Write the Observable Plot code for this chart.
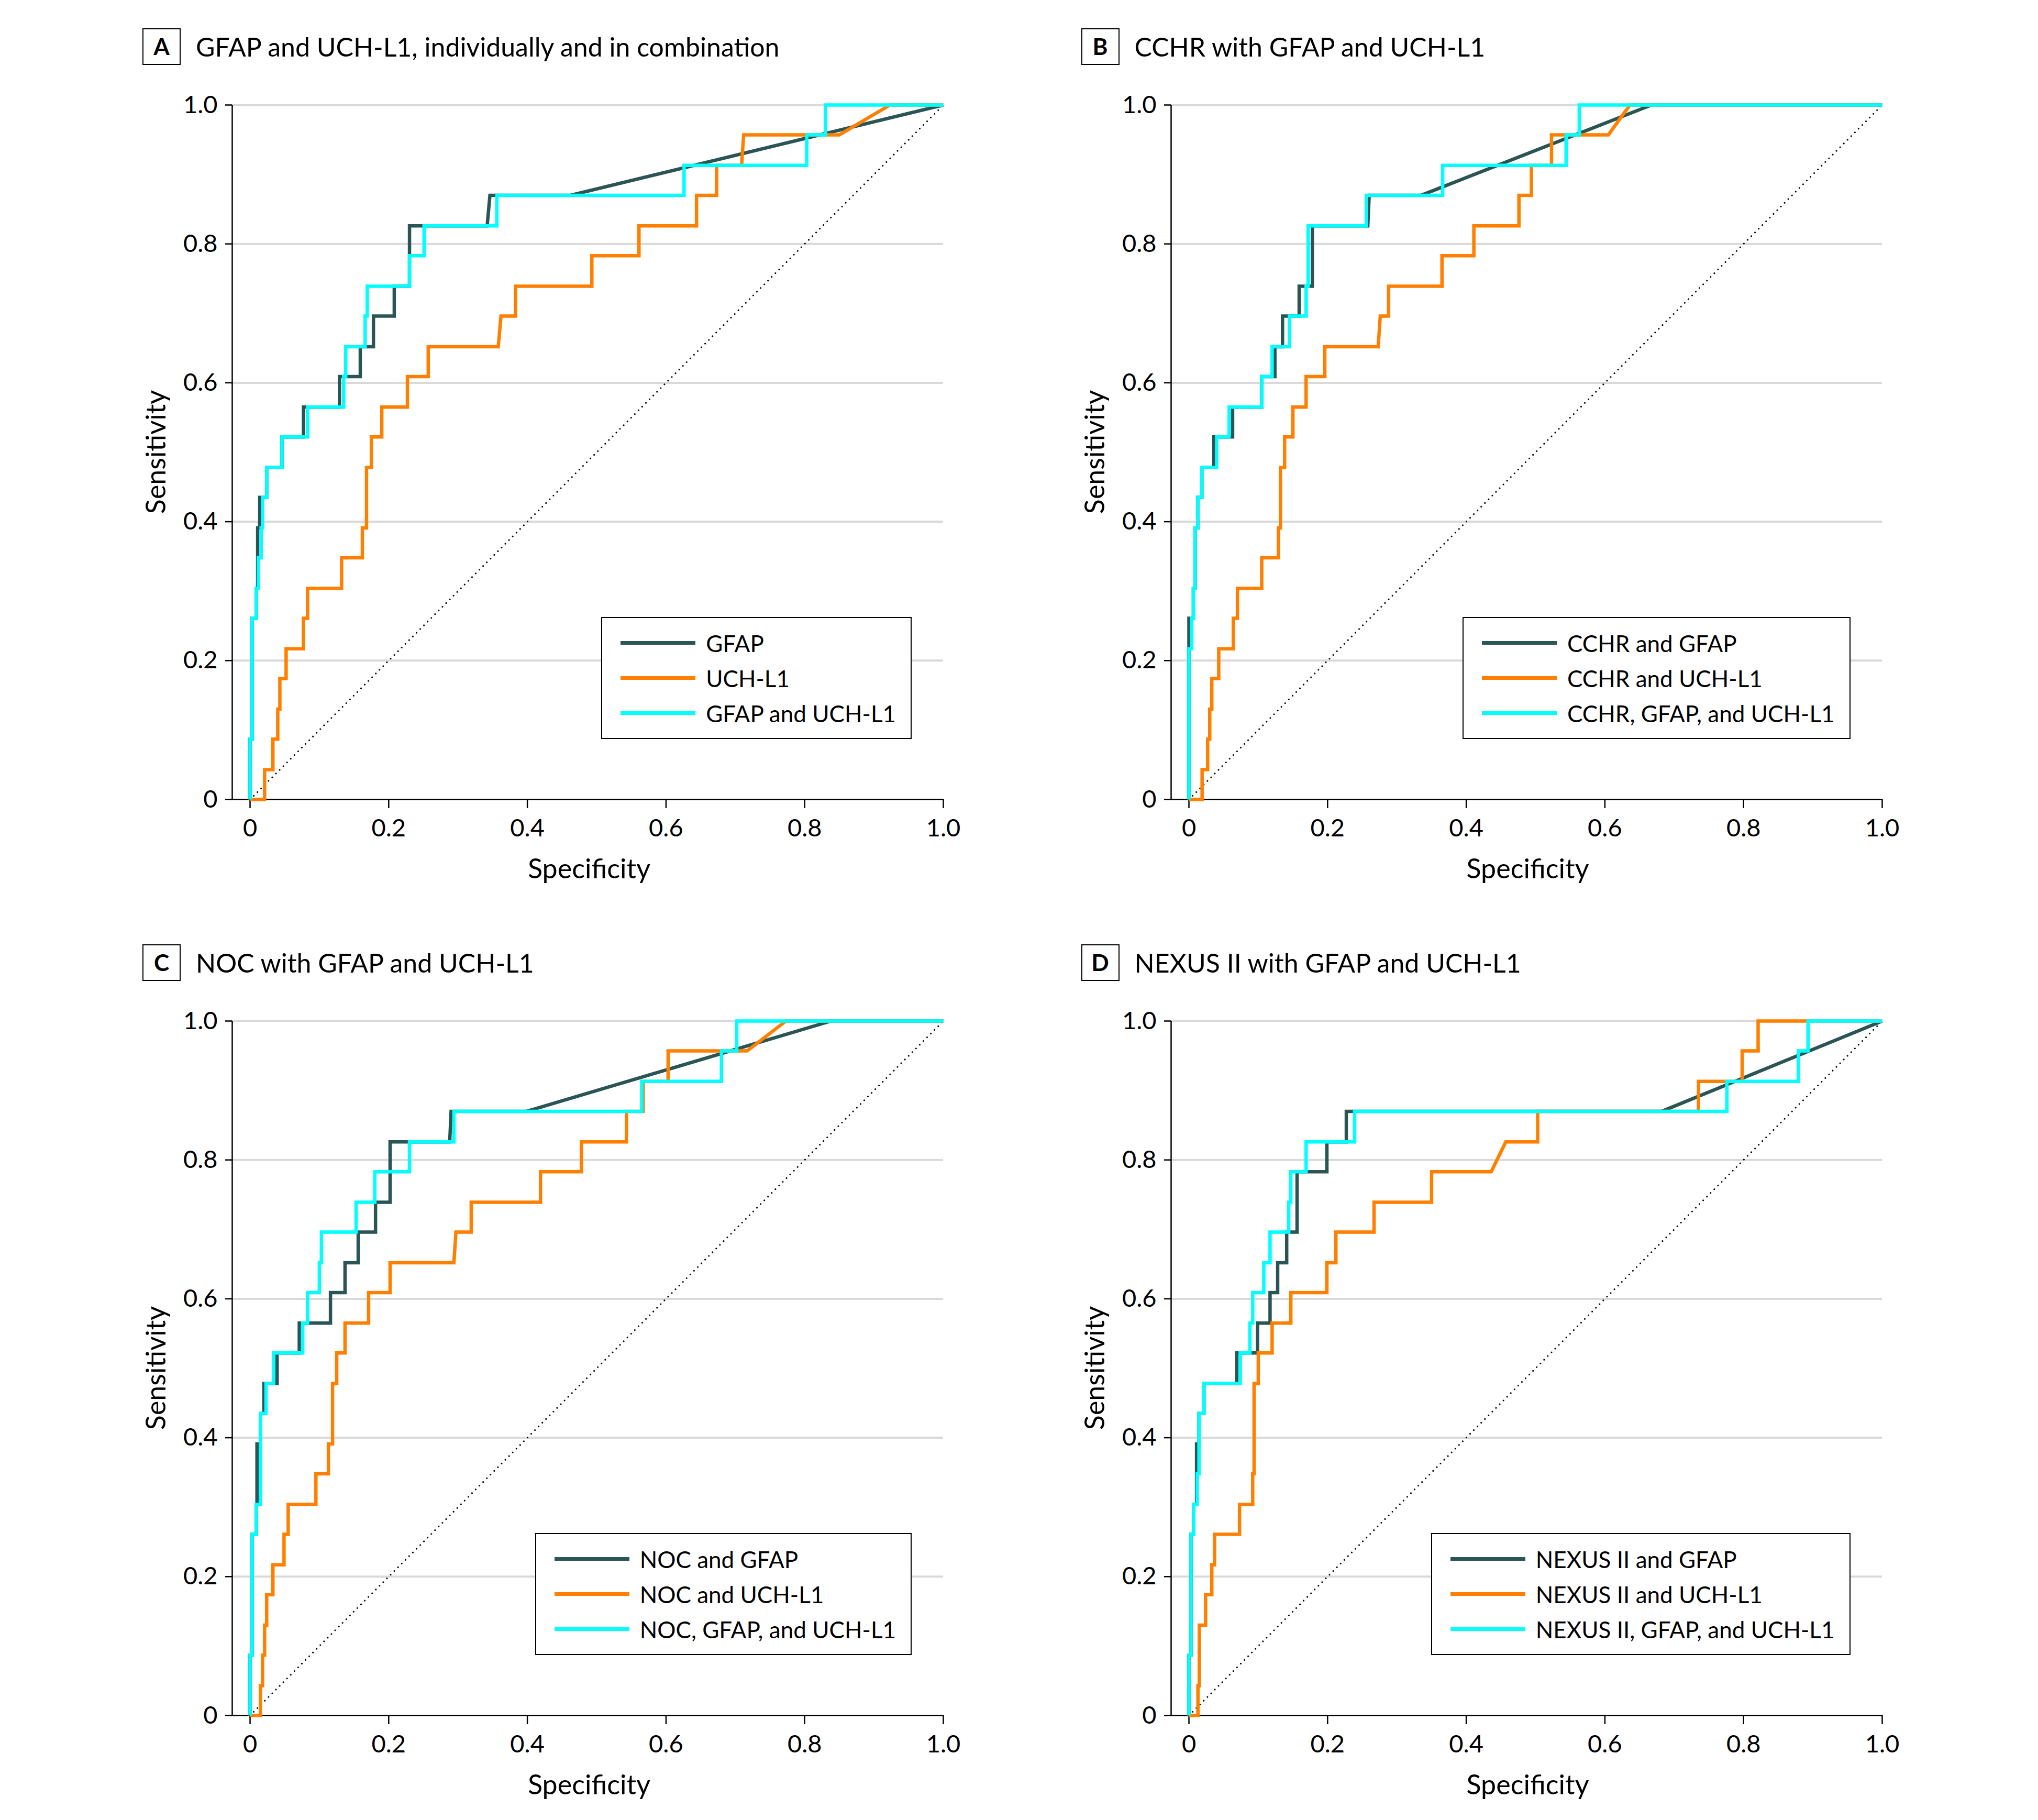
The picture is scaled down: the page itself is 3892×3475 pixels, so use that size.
<!DOCTYPE html>
<html>
<head>
<meta charset="utf-8">
<script src="https://cdn.jsdelivr.net/npm/d3@7"></script>
<script src="https://cdn.jsdelivr.net/npm/@observablehq/plot@0.6"></script>
<style>
  html, body { margin: 0; padding: 0; background: #fff; }
  #root { position: relative; width: 3892px; height: 3475px; background: #fff; font-family: Lato, "Open Sans", sans-serif; color: #000; overflow: hidden; }
  .panel { position: absolute; width: 1664px; height: 1566px; }
  .panel svg { position: absolute; left: 0; top: 0; overflow: visible; }
  .letter { position: absolute; box-sizing: border-box; width: 73px; height: 70px; border: 2.5px solid #000; font-weight: 700; font-size: 44px; line-height: 65px; text-align: center; background: #fff; }
  .title { position: absolute; height: 70px; line-height: 70px; font-size: 50px; white-space: nowrap; }
  .ylab { position: absolute; font-size: 52px; white-space: nowrap; transform: translate(-50%, -50%) rotate(-90deg); }
  .xlab { position: absolute; font-size: 52px; white-space: nowrap; transform: translate(-50%, -50%); }
  .legend { position: absolute; box-sizing: border-box; border: 2.5px solid #000; background: #fff; padding: 14px 28px 14px 35px; }
  .legend .row { display: flex; align-items: center; height: 67px; font-size: 44px; white-space: nowrap; }
  .legend .swatch { width: 143px; height: 6.5px; margin-right: 20px; flex: none; }
</style>
</head>
<body>
<div id="root"></div>
<script>
// ---------- data: ROC curve vertices [x-axis value, sensitivity] ----------
const ticks = [0, 0.2, 0.4, 0.6, 0.8, 1.0];
const xMin = -0.0257;
const chance = [[0, 0], [1, 1]];
const colors = ["#2B5555", "#FF8000", "#00FFFF"];

// Panel A
const A_gfap = [[0,0],[0,0.087],[0.003,0.087],[0.003,0.261],[0.009,0.261],[0.009,0.304],[0.011,0.304],[0.011,0.391],[0.014,0.391],[0.014,0.435],[0.024,0.435],[0.024,0.478],[0.046,0.478],[0.046,0.522],[0.077,0.522],[0.077,0.565],[0.129,0.565],[0.129,0.609],[0.159,0.609],[0.159,0.652],[0.178,0.652],[0.178,0.696],[0.208,0.696],[0.208,0.739],[0.230,0.739],[0.230,0.826],[0.342,0.826],[0.346,0.870],[0.462,0.870],[1,1]];
const A_uch = [[0,0],[0.021,0],[0.021,0.043],[0.033,0.043],[0.033,0.087],[0.040,0.087],[0.040,0.130],[0.043,0.130],[0.043,0.174],[0.052,0.174],[0.052,0.217],[0.077,0.217],[0.077,0.261],[0.083,0.261],[0.083,0.304],[0.132,0.304],[0.132,0.348],[0.162,0.348],[0.162,0.391],[0.168,0.391],[0.168,0.478],[0.175,0.478],[0.175,0.522],[0.190,0.522],[0.190,0.565],[0.227,0.565],[0.227,0.609],[0.257,0.609],[0.257,0.652],[0.358,0.652],[0.362,0.696],[0.383,0.696],[0.383,0.739],[0.493,0.739],[0.493,0.783],[0.561,0.783],[0.561,0.826],[0.644,0.826],[0.644,0.870],[0.673,0.870],[0.673,0.913],[0.709,0.913],[0.712,0.957],[0.850,0.957],[0.923,1],[1,1]];
const A_both = [[0,0],[0,0.087],[0.003,0.087],[0.003,0.261],[0.009,0.261],[0.009,0.304],[0.012,0.304],[0.012,0.348],[0.016,0.348],[0.016,0.391],[0.018,0.391],[0.018,0.435],[0.024,0.435],[0.024,0.478],[0.046,0.478],[0.046,0.522],[0.083,0.522],[0.083,0.565],[0.135,0.565],[0.135,0.609],[0.138,0.609],[0.138,0.652],[0.166,0.652],[0.166,0.696],[0.169,0.696],[0.169,0.739],[0.230,0.739],[0.230,0.783],[0.251,0.783],[0.251,0.826],[0.356,0.826],[0.356,0.870],[0.626,0.870],[0.626,0.913],[0.803,0.913],[0.803,0.957],[0.830,0.957],[0.830,1],[1,1]];

// Panel B
const B_gfap = [[0,0],[0,0.261],[0.0064,0.261],[0.0064,0.304],[0.009,0.304],[0.009,0.391],[0.0127,0.391],[0.0127,0.435],[0.0186,0.435],[0.0186,0.478],[0.036,0.478],[0.036,0.522],[0.063,0.522],[0.063,0.565],[0.105,0.565],[0.105,0.609],[0.124,0.609],[0.124,0.652],[0.135,0.652],[0.135,0.696],[0.159,0.696],[0.159,0.739],[0.178,0.739],[0.178,0.826],[0.258,0.826],[0.260,0.870],[0.335,0.870],[0.667,1],[1,1]];
const B_uch = [[0,0],[0.019,0],[0.019,0.043],[0.027,0.043],[0.027,0.087],[0.030,0.087],[0.030,0.130],[0.033,0.130],[0.033,0.174],[0.043,0.174],[0.043,0.217],[0.064,0.217],[0.064,0.261],[0.070,0.261],[0.070,0.304],[0.105,0.304],[0.105,0.348],[0.129,0.348],[0.129,0.391],[0.132,0.391],[0.132,0.478],[0.138,0.478],[0.138,0.522],[0.150,0.522],[0.150,0.565],[0.169,0.565],[0.169,0.609],[0.196,0.609],[0.196,0.652],[0.273,0.652],[0.276,0.696],[0.288,0.696],[0.288,0.739],[0.365,0.739],[0.365,0.783],[0.411,0.783],[0.411,0.826],[0.476,0.826],[0.476,0.870],[0.494,0.870],[0.494,0.913],[0.523,0.913],[0.523,0.957],[0.605,0.957],[0.636,1],[1,1]];
const B_all = [[0,0],[0,0.217],[0.004,0.217],[0.004,0.261],[0.0064,0.261],[0.0064,0.304],[0.009,0.304],[0.009,0.391],[0.0127,0.391],[0.0127,0.435],[0.0186,0.435],[0.0186,0.478],[0.040,0.478],[0.040,0.522],[0.058,0.522],[0.058,0.565],[0.105,0.565],[0.105,0.609],[0.120,0.609],[0.120,0.652],[0.145,0.652],[0.145,0.696],[0.169,0.696],[0.169,0.739],[0.172,0.739],[0.172,0.826],[0.256,0.826],[0.256,0.870],[0.366,0.870],[0.366,0.913],[0.544,0.913],[0.544,0.957],[0.563,0.957],[0.563,1],[1,1]];

// Panel C
const C_gfap = [[0,0],[0,0.087],[0.003,0.087],[0.003,0.261],[0.009,0.261],[0.009,0.304],[0.010,0.304],[0.010,0.391],[0.015,0.391],[0.015,0.435],[0.020,0.435],[0.020,0.478],[0.039,0.478],[0.039,0.522],[0.071,0.522],[0.071,0.565],[0.116,0.565],[0.116,0.609],[0.137,0.609],[0.137,0.652],[0.156,0.652],[0.156,0.696],[0.181,0.696],[0.181,0.739],[0.202,0.739],[0.202,0.826],[0.288,0.826],[0.290,0.870],[0.399,0.870],[0.838,1],[1,1]];
const C_uch = [[0,0],[0.015,0],[0.015,0.043],[0.018,0.043],[0.018,0.087],[0.021,0.087],[0.021,0.130],[0.024,0.130],[0.024,0.174],[0.033,0.174],[0.033,0.217],[0.049,0.217],[0.049,0.261],[0.055,0.261],[0.055,0.304],[0.095,0.304],[0.095,0.348],[0.113,0.348],[0.113,0.391],[0.119,0.391],[0.119,0.478],[0.125,0.478],[0.125,0.522],[0.137,0.522],[0.137,0.565],[0.171,0.565],[0.171,0.609],[0.202,0.609],[0.202,0.652],[0.294,0.652],[0.297,0.696],[0.319,0.696],[0.319,0.739],[0.419,0.739],[0.419,0.783],[0.478,0.783],[0.478,0.826],[0.543,0.826],[0.543,0.870],[0.567,0.870],[0.567,0.913],[0.603,0.913],[0.603,0.957],[0.717,0.957],[0.773,1],[1,1]];
const C_all = [[0,0],[0,0.087],[0.003,0.087],[0.003,0.261],[0.009,0.261],[0.009,0.304],[0.015,0.304],[0.015,0.435],[0.023,0.435],[0.023,0.478],[0.034,0.478],[0.034,0.522],[0.076,0.522],[0.076,0.565],[0.083,0.565],[0.083,0.609],[0.100,0.609],[0.100,0.652],[0.103,0.652],[0.103,0.696],[0.153,0.696],[0.153,0.739],[0.180,0.739],[0.180,0.783],[0.230,0.783],[0.230,0.826],[0.294,0.826],[0.294,0.870],[0.565,0.870],[0.565,0.913],[0.680,0.913],[0.680,0.957],[0.702,0.957],[0.702,1],[1,1]];

// Panel D
const D_gfap = [[0,0],[0,0.087],[0.003,0.087],[0.003,0.261],[0.0067,0.261],[0.0067,0.304],[0.011,0.304],[0.011,0.391],[0.0145,0.391],[0.0145,0.435],[0.0216,0.435],[0.0216,0.478],[0.069,0.478],[0.069,0.522],[0.099,0.522],[0.099,0.565],[0.117,0.565],[0.117,0.609],[0.128,0.609],[0.128,0.652],[0.141,0.652],[0.141,0.696],[0.156,0.696],[0.156,0.783],[0.199,0.783],[0.199,0.826],[0.227,0.826],[0.227,0.870],[0.682,0.870],[1,1]];
const D_uch = [[0,0],[0.013,0],[0.013,0.043],[0.015,0.043],[0.015,0.130],[0.024,0.130],[0.024,0.174],[0.033,0.174],[0.033,0.217],[0.037,0.217],[0.037,0.261],[0.073,0.261],[0.073,0.304],[0.092,0.304],[0.092,0.348],[0.094,0.348],[0.094,0.478],[0.100,0.478],[0.100,0.522],[0.120,0.522],[0.120,0.565],[0.147,0.565],[0.147,0.609],[0.199,0.609],[0.199,0.652],[0.212,0.652],[0.212,0.696],[0.267,0.696],[0.267,0.739],[0.350,0.739],[0.350,0.783],[0.436,0.783],[0.457,0.826],[0.503,0.826],[0.503,0.870],[0.735,0.870],[0.735,0.913],[0.798,0.913],[0.798,0.957],[0.821,0.957],[0.821,1],[1,1]];
const D_all = [[0,0],[0,0.087],[0.003,0.087],[0.003,0.261],[0.0067,0.261],[0.0067,0.304],[0.012,0.304],[0.012,0.348],[0.0145,0.348],[0.0145,0.435],[0.0216,0.435],[0.0216,0.478],[0.074,0.478],[0.074,0.522],[0.088,0.522],[0.088,0.565],[0.092,0.565],[0.092,0.609],[0.108,0.609],[0.108,0.652],[0.117,0.652],[0.117,0.696],[0.144,0.696],[0.144,0.739],[0.147,0.739],[0.147,0.783],[0.169,0.783],[0.169,0.826],[0.239,0.826],[0.239,0.870],[0.776,0.870],[0.776,0.913],[0.879,0.913],[0.879,0.957],[0.893,0.957],[0.893,1],[1,1]];

const letters = ["A", "B", "C", "D"];
const titles = [
  "GFAP and UCH-L1, individually and in combination",
  "CCHR with GFAP and UCH-L1",
  "NOC with GFAP and UCH-L1",
  "NEXUS II with GFAP and UCH-L1"
];
const legendNames = [
  ["GFAP", "UCH-L1", "GFAP and UCH-L1"],
  ["CCHR and GFAP", "CCHR and UCH-L1", "CCHR, GFAP, and UCH-L1"],
  ["NOC and GFAP", "NOC and UCH-L1", "NOC, GFAP, and UCH-L1"],
  ["NEXUS II and GFAP", "NEXUS II and UCH-L1", "NEXUS II, GFAP, and UCH-L1"]
];
const seriesByPanel = [
  [A_gfap, A_uch, A_both],
  [B_gfap, B_uch, B_all],
  [C_gfap, C_uch, C_all],
  [D_gfap, D_uch, D_all]
];
const xLabel = "Specificity";
const yLabel = "Sensitivity";

// ---------- layout ----------
const panelLeft = [197, 1989.5];   // container left for column 0, 1
const panelTop = [140, 1889];      // container top for row 0, 1
const fmt = d => d === 0 ? "0" : d3.format(".1f")(d);

const root = document.getElementById("root");

letters.forEach((letter, i) => {
  const col = i % 2, row = Math.floor(i / 2);
  const panel = document.createElement("div");
  panel.className = "panel";
  panel.style.left = panelLeft[col] + "px";
  panel.style.top = panelTop[row] + "px";
  root.appendChild(panel);

  const series = seriesByPanel[i];
  const lineOpts = (k) => ({
    x: d => d[0], y: d => d[1],
    stroke: colors[k], strokeWidth: 6.5,
    strokeLinejoin: "miter", strokeLinecap: "butt", strokeMiterlimit: 4
  });

  const chart = Plot.plot({
    width: 1664, height: 1566,
    marginLeft: 246, marginRight: 60, marginTop: 60, marginBottom: 180,
    style: {fontFamily: "Lato, 'Open Sans', sans-serif", fontSize: "47px", color: "#000", background: "transparent", overflow: "visible"},
    x: {domain: [xMin, 1]},
    y: {domain: [0, 1]},
    marks: [
      Plot.gridY(ticks.slice(1), {stroke: "#d9d9d9", strokeOpacity: 1, strokeWidth: 4}),
      Plot.ruleY([0], {stroke: "#000", strokeWidth: 2.5}),
      Plot.ruleX([xMin], {stroke: "#000", strokeWidth: 2.5}),
      Plot.axisX(ticks, {tickSize: 17, tickPadding: 20, tickFormat: fmt, label: null, strokeWidth: 2.5}),
      Plot.axisY(ticks, {tickSize: 13, tickPadding: 15, tickFormat: fmt, label: null, strokeWidth: 2.5}),
      Plot.line(chance, {x: d => d[0], y: d => d[1], stroke: "#000", strokeWidth: 3.2, strokeDasharray: "0 10", strokeLinecap: "round"}),
      Plot.line(series[0], lineOpts(0)),
      Plot.line(series[1], lineOpts(1)),
      Plot.line(series[2], lineOpts(2))
    ]
  });
  panel.appendChild(chart);

  const box = document.createElement("div");
  box.className = "letter";
  box.style.left = "75px"; box.style.top = "-86px";
  box.textContent = letter;
  panel.appendChild(box);

  const title = document.createElement("div");
  title.className = "title";
  title.style.left = "177px"; title.style.top = "-86px";
  title.textContent = titles[i];
  panel.appendChild(title);

  const yl = document.createElement("div");
  yl.className = "ylab";
  yl.style.left = "99px"; yl.style.top = "723px";
  yl.textContent = yLabel;
  panel.appendChild(yl);

  const xl = document.createElement("div");
  xl.className = "xlab";
  xl.style.left = "928px"; xl.style.top = "1517px";
  xl.textContent = xLabel;
  panel.appendChild(xl);

  const lg = document.createElement("div");
  lg.className = "legend";
  lg.style.right = (1664 - 1544) + "px";
  lg.style.top = "1038px";
  legendNames[i].forEach((name, k) => {
    const r = document.createElement("div");
    r.className = "row";
    const sw = document.createElement("div");
    sw.className = "swatch";
    sw.style.background = colors[k];
    const t = document.createElement("span");
    t.textContent = name;
    r.appendChild(sw); r.appendChild(t);
    lg.appendChild(r);
  });
  panel.appendChild(lg);
});
</script>
</body>
</html>
